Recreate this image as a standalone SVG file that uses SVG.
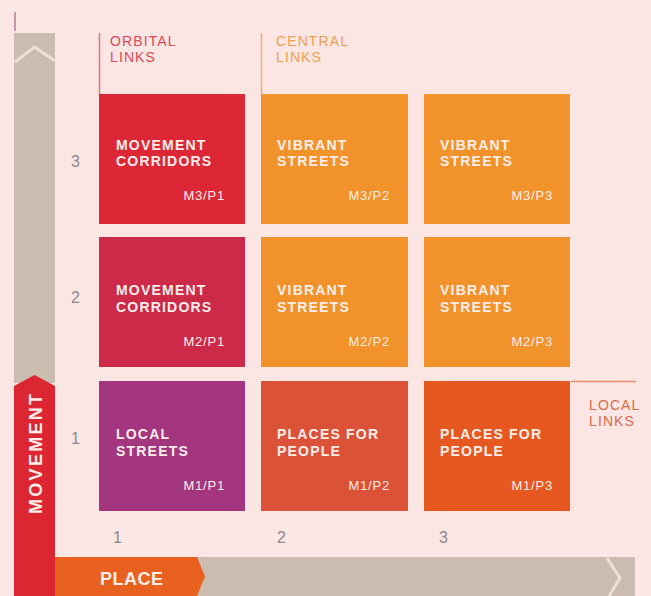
<svg xmlns="http://www.w3.org/2000/svg" width="651" height="596" viewBox="0 0 651 596">
<style>
.t{font-family:"Liberation Sans",Arial,sans-serif;font-weight:bold;font-size:14px;letter-spacing:1.2px;fill:#fdeeea}
.c{font-family:"Liberation Sans",Arial,sans-serif;font-size:13px;letter-spacing:0.8px;fill:#fdeeea;text-anchor:end}
.h{font-family:"Liberation Sans",Arial,sans-serif;font-size:14px;letter-spacing:1.1px}
.n{font-family:"Liberation Sans",Arial,sans-serif;font-size:16px;fill:#8c8886}
.ax{font-family:"Liberation Sans",Arial,sans-serif;font-weight:bold;font-size:18px;fill:#fdeeea}
</style>
<rect width="651" height="596" fill="#fce6e4"/>
<line x1="15" y1="12" x2="15" y2="31" stroke="#b47898" stroke-width="1.5"/>

<g id="movement-axis">
<rect x="14" y="33" width="41" height="350" fill="#cabcae"/>
<polyline points="15,62 34.5,47 55,61" fill="none" stroke="#ece2d8" stroke-width="3"/>
<polygon points="14,386 34.5,375 55,386 55,596 14,596" fill="#dc2632"/>
<text class="ax" transform="translate(42,514) rotate(-90)" letter-spacing="2.3">MOVEMENT</text>
</g>
<g id="place-axis">
<rect x="55" y="557" width="580" height="39" fill="#cabcae"/>
<polyline points="607,558 620,578 609,596" fill="none" stroke="#ece2d8" stroke-width="3"/>
<polygon points="55,557 197,557 205,576.5 197,596 55,596" fill="#e8611f"/>
<text class="ax" x="100" y="585" letter-spacing="0.5">PLACE</text>
</g>

<g id="axis-numbers">
<text class="n" x="71" y="167">3</text>
<text class="n" x="71" y="303">2</text>
<text class="n" x="71" y="444">1</text>
<text class="n" x="113" y="543">1</text>
<text class="n" x="277" y="543">2</text>
<text class="n" x="439" y="543">3</text>
</g>

<g id="connectors">
<line x1="99.5" y1="33" x2="99.5" y2="94" stroke="#e4707c" stroke-width="1.5"/>
<line x1="261.5" y1="33" x2="261.5" y2="94" stroke="#f2b06a" stroke-width="1.5"/>
<line x1="571" y1="381.5" x2="636" y2="381.5" stroke="#e48a6e" stroke-width="1.5"/>
</g>

<g id="orbital-links">
<text class="h" x="110" y="46" fill="#de4656">ORBITAL</text>
<text class="h" x="110" y="62" fill="#de4656">LINKS</text>
</g>
<g id="central-links">
<text class="h" x="276" y="46" fill="#eea050">CENTRAL</text>
<text class="h" x="276" y="62" fill="#eea050">LINKS</text>
</g>
<g id="local-links">
<text class="h" x="589" y="410" fill="#d86c4c">LOCAL</text>
<text class="h" x="589" y="426" fill="#d86c4c">LINKS</text>
</g>

<g id="m3p1">
<rect x="99" y="94" width="146" height="130" fill="#dd2636"/>
<text class="t" x="116" y="150">MOVEMENT</text>
<text class="t" x="116" y="166">CORRIDORS</text>
<text class="c" x="225" y="200">M3/P1</text>
</g>
<g id="m3p2">
<rect x="261" y="94" width="147" height="130" fill="#f2922a"/>
<text class="t" x="277" y="150">VIBRANT</text>
<text class="t" x="277" y="166">STREETS</text>
<text class="c" x="390" y="200">M3/P2</text>
</g>
<g id="m3p3">
<rect x="424" y="94" width="146" height="130" fill="#f2922a"/>
<text class="t" x="440" y="150">VIBRANT</text>
<text class="t" x="440" y="166">STREETS</text>
<text class="c" x="553" y="200">M3/P3</text>
</g>

<g id="m2p1">
<rect x="99" y="237" width="146" height="130" fill="#cc2a48"/>
<text class="t" x="116" y="295">MOVEMENT</text>
<text class="t" x="116" y="312">CORRIDORS</text>
<text class="c" x="225" y="346">M2/P1</text>
</g>
<g id="m2p2">
<rect x="261" y="237" width="147" height="130" fill="#f2922a"/>
<text class="t" x="277" y="295">VIBRANT</text>
<text class="t" x="277" y="312">STREETS</text>
<text class="c" x="390" y="346">M2/P2</text>
</g>
<g id="m2p3">
<rect x="424" y="237" width="146" height="130" fill="#f2922a"/>
<text class="t" x="440" y="295">VIBRANT</text>
<text class="t" x="440" y="312">STREETS</text>
<text class="c" x="553" y="346">M2/P3</text>
</g>

<g id="m1p1">
<rect x="99" y="381" width="146" height="130" fill="#a3367e"/>
<text class="t" x="116" y="439">LOCAL</text>
<text class="t" x="116" y="456">STREETS</text>
<text class="c" x="225" y="490">M1/P1</text>
</g>
<g id="m1p2">
<rect x="261" y="381" width="147" height="130" fill="#dc5238"/>
<text class="t" x="277" y="439" font-weight="normal" fill="#f8d6cc">PLACES FOR</text>
<text class="t" x="277" y="456" font-weight="normal" fill="#f8d6cc">PEOPLE</text>
<text class="c" x="390" y="490">M1/P2</text>
</g>
<g id="m1p3">
<rect x="424" y="381" width="146" height="130" fill="#e6581f"/>
<text class="t" x="440" y="439">PLACES FOR</text>
<text class="t" x="440" y="456">PEOPLE</text>
<text class="c" x="553" y="490">M1/P3</text>
</g>
</svg>
